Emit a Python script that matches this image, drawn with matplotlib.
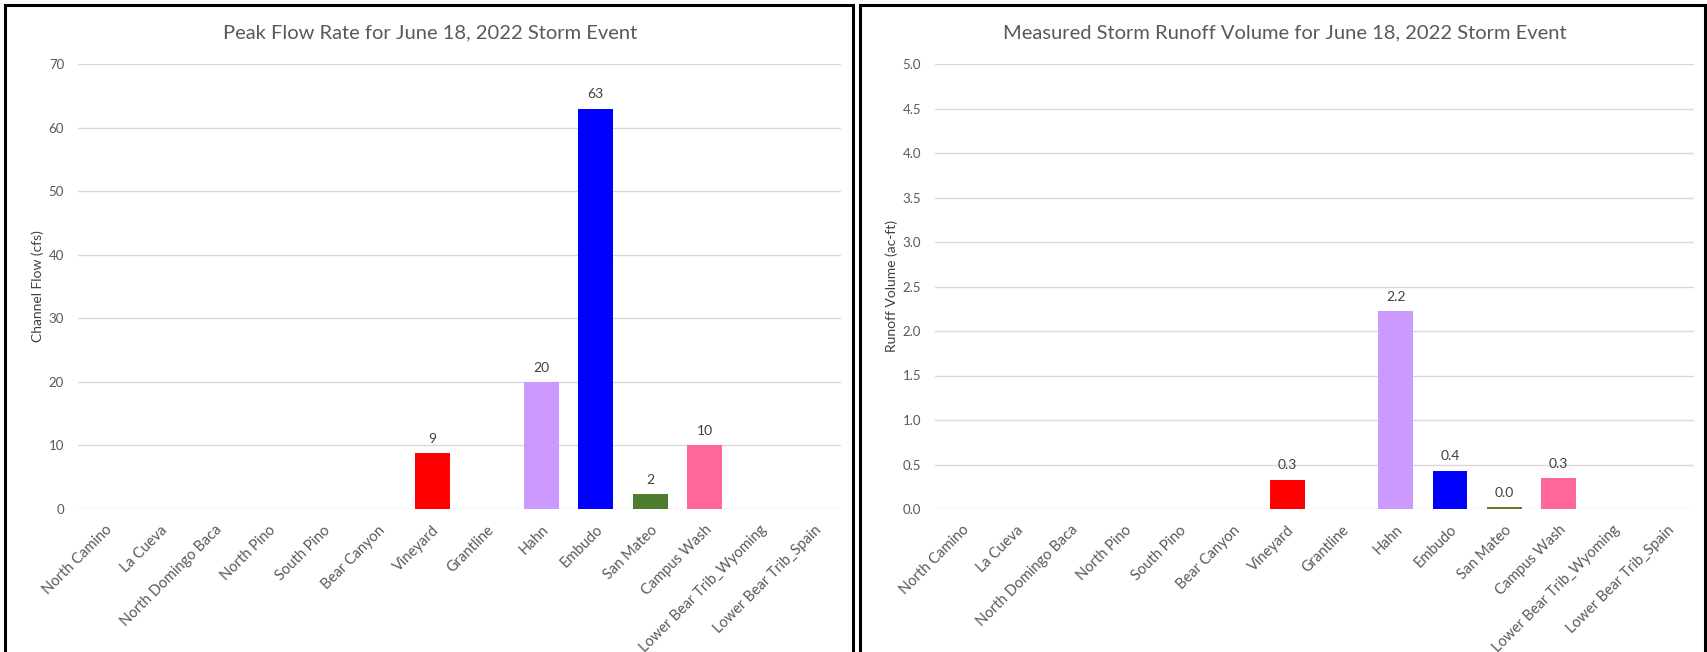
import matplotlib
matplotlib.use("Agg")
import matplotlib.pyplot as plt
from matplotlib.patches import Rectangle

sites = ["North Camino", "La Cueva", "North Domingo Baca", "North Pino", "South Pino",
         "Bear Canyon", "Vineyard", "Grantline", "Hahn", "Embudo", "San Mateo",
         "Campus Wash", "Lower Bear Trib_Wyoming", "Lower Bear Trib_Spain"]
peak_flow_cfs = [0, 0, 0, 0, 0, 0, 8.8, 0, 20, 63, 2.3, 10, 0, 0]
runoff_acft = [0, 0, 0, 0, 0, 0, 0.33, 0, 2.22, 0.43, 0.02, 0.35, 0, 0]
site_colors = ["#FF0000", "#FF0000", "#FF0000", "#FF0000", "#FF0000", "#FF0000",
               "#FF0000", "#FF0000", "#CC99FF", "#0000FF", "#4E7D2F", "#FF6699",
               "#FF0000", "#FF0000"]
runoff_colors = list(site_colors)
runoff_colors[10] = "#6B7A2A"

flow_ticks = [0, 10, 20, 30, 40, 50, 60, 70]
runoff_ticks = [0.0, 0.5, 1.0, 1.5, 2.0, 2.5, 3.0, 3.5, 4.0, 4.5, 5.0]

plt.rcParams['font.family'] = ['Lato', 'DejaVu Sans']

W, H = 1708, 652
fig = plt.figure(figsize=(W / 100, H / 100), dpi=100)
fig.patch.set_facecolor("white")

# panel frames
for x0, x1 in [(5, 853), (860, 1705)]:
    fig.add_artist(Rectangle((x0 / W, -0.05), (x1 - x0) / W, 1.05 - 5 / H,
                             transform=fig.transFigure, fill=False,
                             edgecolor="black", linewidth=2.2))

TXT = "#595959"
LBL = "#404040"


def draw_panel(rect, values, colors, ticks, ymax, fmt, title, ylabel, title_x, ylabel_x):
    ax = fig.add_axes(rect)
    x = range(len(sites))
    bars = ax.bar(x, values, width=0.64, color=colors, zorder=3)
    for b, v in zip(bars, values):
        if v > 0:
            ax.annotate(fmt.format(v), (b.get_x() + b.get_width() / 2, v),
                        xytext=(0, 6), textcoords="offset points",
                        ha="center", va="bottom", fontsize=10, color=LBL)
    ax.set_xlim(-0.5, len(sites) - 0.5)
    ax.set_ylim(0, ymax)
    ax.set_yticks(ticks)
    ax.set_yticklabels([fmt.format(t) if isinstance(t, float) else str(t) for t in ticks])
    ax.yaxis.grid(True, color="#D9D9D9", linewidth=1.0, zorder=0)
    ax.set_axisbelow(True)
    for s in ax.spines.values():
        s.set_visible(False)
    ax.tick_params(axis="both", length=0, labelsize=9.5, labelcolor=TXT)
    ax.tick_params(axis="y", pad=10)
    ax.set_xticks(list(x))
    ax.set_xticklabels(sites, rotation=45, ha="right", rotation_mode="anchor",
                       fontsize=10.5, color=TXT)
    ax.tick_params(axis="x", pad=10)
    fig.text(title_x / W, 1 - 33 / H, title, ha="center", va="center",
             fontsize=14.5, color=TXT)
    fig.text(ylabel_x / W, 1 - 286 / H, ylabel, ha="center", va="center",
             rotation=90, fontsize=10, color=LBL)
    return ax


bottom = (H - 509) / H
height = (509 - 64) / H
draw_panel([78 / W, bottom, 763 / W, height], peak_flow_cfs, site_colors,
           flow_ticks, 70, "{:.0f}",
           "Peak Flow Rate for June 18, 2022 Storm Event", "Channel Flow (cfs)",
           430, 38)
draw_panel([935 / W, bottom, 759 / W, height], runoff_acft, runoff_colors,
           runoff_ticks, 5.0, "{:.1f}",
           "Measured Storm Runoff Volume for June 18, 2022 Storm Event",
           "Runoff Volume (ac-ft)", 1285, 892)

fig.savefig("out.png", dpi=100, facecolor="white")
